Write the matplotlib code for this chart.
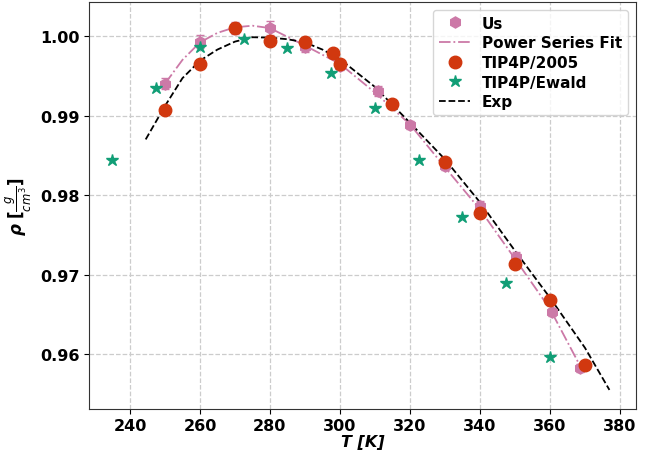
import matplotlib
matplotlib.use("Agg")
import matplotlib.pyplot as plt

# Us (simulation) data
us_T = [250, 260, 270, 280, 290, 300, 311, 320, 330, 340, 350.3, 360.5, 368.5]
us_rho = [0.9940, 0.9993, 1.0010, 1.0010, 0.9986, 0.9962, 0.9931, 0.9888, 0.9837, 0.9786, 0.9722, 0.9653, 0.9583]
us_err = [0.0007, 0.0008, 0.0008, 0.0009, 0.0006, 0.0005, 0.0006, 0.0005, 0.0005, 0.0006, 0.0006, 0.0005, 0.0005]

# Power series fit
fit_T = [250, 255, 260, 265, 270, 275, 280, 285, 290, 300, 310, 320, 330, 340, 350, 360, 369]
fit_rho = [0.9940, 0.9970, 0.9992, 1.0004, 1.0011, 1.0013, 1.0010, 0.9999, 0.9988, 0.9965, 0.9929, 0.9889, 0.9835, 0.9782, 0.9720, 0.9657, 0.9582]

# TIP4P/2005
t05_T = [250, 260, 270, 280, 290, 298, 300, 315, 330, 340, 350, 360, 370]
t05_rho = [0.9907, 0.9965, 1.0010, 0.9994, 0.9993, 0.9979, 0.9965, 0.9914, 0.9841, 0.9777, 0.9713, 0.9668, 0.9586]

# TIP4P/Ewald
tew_T = [235, 247.5, 260, 272.5, 285, 297.5, 310, 322.5, 335, 347.5, 360]
tew_rho = [0.9844, 0.9935, 0.9986, 0.9996, 0.9985, 0.9954, 0.9909, 0.9844, 0.9773, 0.9689, 0.9596]

# Experimental
exp_T = [244.5, 250, 255, 260, 265, 270, 275, 280, 285, 290, 295, 300, 310, 320, 330, 340, 350, 360, 370, 377]
exp_rho = [0.9870, 0.9912, 0.9947, 0.9969, 0.9983, 0.9993, 0.99985, 0.9998, 0.9996, 0.9992, 0.9983, 0.9971, 0.9936, 0.9891, 0.9845, 0.9791, 0.9730, 0.9671, 0.9608, 0.9555]

pink = '#cc79a7'
red = '#d1380f'
green = '#119e76'

fig = plt.figure(figsize=(6.51, 4.56), dpi=100)
ax = fig.add_axes([0.1367, 0.1009, 0.8403, 0.8925])

ax.grid(True, linestyle='--', color='#cccccc', linewidth=0.9)
ax.set_axisbelow(True)

ax.errorbar(us_T, us_rho, yerr=us_err, fmt='none', ecolor=pink,
            capsize=3, elinewidth=1.2, zorder=3)
ax.plot(us_T, us_rho, 'h', color=pink, markersize=8, linestyle='none', label='Us', zorder=3)
ax.plot(fit_T, fit_rho, '-.', color=pink, linewidth=1.3, label='Power Series Fit', zorder=2)
ax.plot(t05_T, t05_rho, 'o', color=red, markersize=9, linestyle='none', label='TIP4P/2005', zorder=3)
ax.plot(tew_T, tew_rho, '*', color=green, markersize=9, linestyle='none', label='TIP4P/Ewald', zorder=4)
ax.plot(exp_T, exp_rho, '--', color='black', linewidth=1.3, label='Exp', zorder=2)

ax.set_xlim(228.3, 384.6)
ax.set_ylim(0.9531, 1.00428)
ax.set_xticks([240, 260, 280, 300, 320, 340, 360, 380])
ax.set_yticks([0.96, 0.97, 0.98, 0.99, 1.00])
ax.set_yticklabels(['0.96', '0.97', '0.98', '0.99', '1.00'])
ax.tick_params(axis='x', pad=3)

for lab in ax.get_xticklabels() + ax.get_yticklabels():
    lab.set_fontweight('bold')
    lab.set_fontsize(11.5)

for s in ax.spines.values():
    s.set_color('#333333')

ax.set_xlabel('T [K]', fontsize=11.5, fontweight='bold', fontstyle='italic', labelpad=1)
ax.set_ylabel(r'$\boldsymbol{\rho\ [\frac{g}{cm^3}]}$', fontsize=12)

leg = ax.legend(loc='upper right', prop={'weight': 'bold', 'size': 11},
                handlelength=2.0, borderpad=0.4, labelspacing=0.3)

fig.savefig('out.png', dpi=100)
